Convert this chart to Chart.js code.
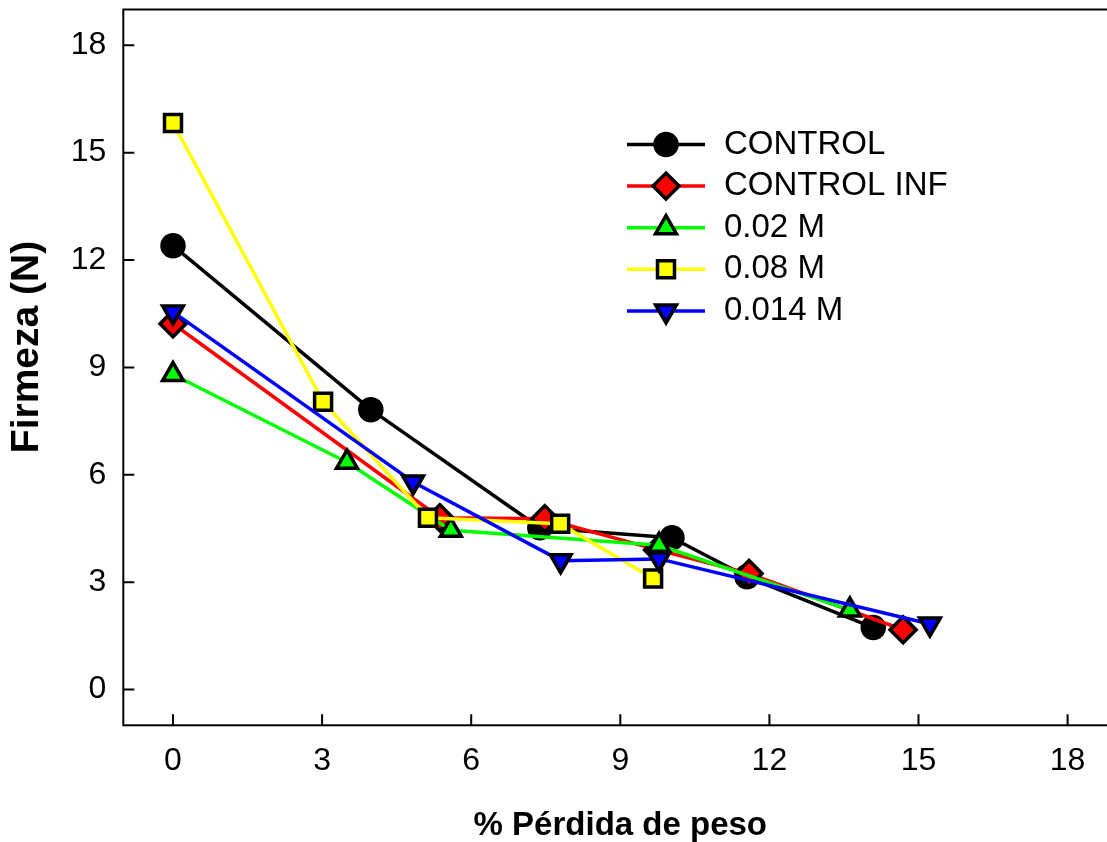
<!DOCTYPE html>
<html><head><meta charset="utf-8">
<script src="https://cdn.jsdelivr.net/npm/chart.js@4/dist/chart.umd.min.js"></script>
<style>
html,body{margin:0;padding:0;background:#fff;overflow:hidden;width:1107px;height:842px}
#wrap{position:absolute;left:0;top:0;width:1120px;height:842px}
</style></head><body><div id="wrap"><canvas id="c" width="1120" height="842"></canvas></div>
<script>
// ---- data ----
const seriesNames = ['CONTROL', 'CONTROL INF', '0.02 M', '0.08 M', '0.014 M'];
const controlX    = [0, 3.98, 7.38, 10.04, 11.55, 14.09];
const controlY    = [12.4, 7.82, 4.52, 4.24, 3.15, 1.73];
const controlInfX = [0, 5.37, 7.48, 9.75, 11.59, 14.69];
const controlInfY = [10.22, 4.8, 4.77, 3.9, 3.24, 1.67];
const m002X       = [0, 3.5, 5.59, 9.78, 13.62];
const m002Y       = [8.8, 6.35, 4.45, 4.03, 2.22];
const m008X       = [0, 3.02, 5.13, 7.79, 9.66];
const m008Y       = [15.83, 8.04, 4.8, 4.63, 3.1];
const m0014X      = [0, 4.83, 7.8, 9.78, 15.23];
const m0014Y      = [10.55, 5.8, 3.6, 3.65, 1.83];
const xTicks = [0, 3, 6, 9, 12, 15, 18];
const yTicks = [0, 3, 6, 9, 12, 15, 18];
const xTitle = '% Pérdida de peso';
const yTitle = 'Firmeza (N)';

// ---- styles ----
const FONT = 'Arial, "Liberation Sans", Helvetica, sans-serif';
const colors   = ['#000000', '#ff0000', '#00ff00', '#ffff00', '#0000ff'];
const pStyles  = ['circle', 'rectRot', 'triangle', 'rect', 'triangle'];
const pRot     = [0, 0, 0, 0, 180];
const pRadius  = [11, 13, 12, 12, 12];
const drawOrd  = [4, 3, 2, 1, 0];

const xs = [controlX, controlInfX, m002X, m008X, m0014X];
const ys = [controlY, controlInfY, m002Y, m008Y, m0014Y];
const pts = (X, Y) => X.map((v, i) => ({x: v, y: Y[i]}));

const datasets = seriesNames.map((name, i) => ({
  label: name,
  data: pts(xs[i], ys[i]),
  borderColor: colors[i],
  backgroundColor: colors[i],
  borderWidth: 3.5,
  pointStyle: pStyles[i],
  pointRotation: pRot[i],
  pointRadius: pRadius[i],
  pointBackgroundColor: colors[i],
  pointBorderColor: '#000000',
  pointBorderWidth: 3.5,
  tension: 0,
  fill: false,
  clip: false,
  order: drawOrd[i]
}));

function drawMarker(ctx, style, x, y, r, rot) {
  ctx.beginPath();
  if (style === 'circle') {
    ctx.arc(x, y, r, 0, Math.PI * 2);
  } else if (style === 'rect') {
    const s = Math.SQRT1_2 * r;
    ctx.rect(x - s, y - s, 2 * s, 2 * s);
  } else if (style === 'rectRot') {
    ctx.moveTo(x, y - r); ctx.lineTo(x + r, y); ctx.lineTo(x, y + r); ctx.lineTo(x - r, y);
  } else if (style === 'triangle') {
    let rad = rot * Math.PI / 180;
    for (let k = 0; k < 3; k++) {
      const px = x + Math.sin(rad) * r, py = y - Math.cos(rad) * r;
      if (k === 0) ctx.moveTo(px, py); else ctx.lineTo(px, py);
      rad += 2 * Math.PI / 3;
    }
  }
  ctx.closePath();
  ctx.fill();
  ctx.stroke();
}

const zeroPad = s => { s.paddingTop = 0; s.paddingBottom = 0; s.paddingLeft = 0; s.paddingRight = 0; };

const framePlugin = {
  id: 'frame',
  beforeDatasetsDraw(chart) {
    const {ctx, chartArea: a, scales: {x, y}} = chart;
    ctx.save();
    ctx.strokeStyle = '#000';
    ctx.lineWidth = 2;
    ctx.strokeRect(a.left, a.top, a.right - a.left, a.bottom - a.top);
    ctx.beginPath();
    x.ticks.forEach(t => { const p = x.getPixelForValue(t.value); ctx.moveTo(p, a.bottom); ctx.lineTo(p, a.bottom - 11); });
    y.ticks.forEach(t => { const p = y.getPixelForValue(t.value); ctx.moveTo(a.left, p); ctx.lineTo(a.left + 11, p); });
    ctx.stroke();
    // y axis title
    ctx.translate(27, 347);
    ctx.rotate(-Math.PI / 2);
    ctx.fillStyle = '#000';
    ctx.font = 'bold 39px ' + FONT;
    ctx.textAlign = 'center';
    ctx.textBaseline = 'middle';
    ctx.fillText(yTitle, 0, 0);
    ctx.restore();
  }
};

const legendPlugin = {
  id: 'customLegend',
  afterDraw(chart) {
    const ctx = chart.ctx;
    const x0 = 627, x1 = 705, mx = 666, tx = 724, y0 = 144.5, dy = 41.6;
    ctx.save();
    chart.data.datasets.forEach((ds, i) => {
      const yy = y0 + i * dy;
      ctx.strokeStyle = ds.borderColor;
      ctx.lineWidth = 3.5;
      ctx.beginPath(); ctx.moveTo(x0, yy); ctx.lineTo(x1, yy); ctx.stroke();
      ctx.fillStyle = ds.pointBackgroundColor;
      ctx.strokeStyle = '#000';
      ctx.lineWidth = 3.5;
      ctx.lineJoin = 'miter';
      drawMarker(ctx, ds.pointStyle, mx, yy, ds.pointRadius, ds.pointRotation);
      ctx.fillStyle = '#000';
      ctx.font = '33px ' + FONT;
      ctx.textBaseline = 'middle';
      ctx.textAlign = 'left';
      ctx.fillText(ds.label, tx, yy);
    });
    ctx.restore();
  }
};

new Chart(document.getElementById('c'), {
  type: 'line',
  data: {datasets},
  options: {
    responsive: false,
    animation: false,
    devicePixelRatio: 1,
    layout: {autoPadding: false, padding: {left: 0, top: 9.5, right: 2.7, bottom: 0}},
    plugins: {legend: {display: false}, tooltip: {enabled: false}},
    elements: {line: {borderJoinStyle: 'round'}},
    scales: {
      x: {
        type: 'linear', min: -1, max: 19,
        afterBuildTicks: s => { s.ticks = xTicks.map(v => ({value: v})); },
        afterFit: s => { s.height = 116.7; zeroPad(s); },
        grid: {display: false, drawTicks: false},
        border: {display: false},
        ticks: {padding: 17, color: '#000', font: {family: FONT, size: 32}},
        title: {display: true, text: xTitle, color: '#000',
          font: {family: FONT, size: 33, weight: 'bold', lineHeight: 1}, padding: {top: 0, bottom: 0}}
      },
      y: {
        type: 'linear', min: -1, max: 19,
        afterBuildTicks: s => { s.ticks = yTicks.map(v => ({value: v})); },
        afterFit: s => { s.width = 123.3; zeroPad(s); },
        grid: {display: false, drawTicks: false},
        border: {display: false},
        ticks: {padding: 17, color: '#000', font: {family: FONT, size: 32}},
        title: {display: false, text: yTitle}
      }
    }
  },
  plugins: [framePlugin, legendPlugin]
});
</script></body></html>
